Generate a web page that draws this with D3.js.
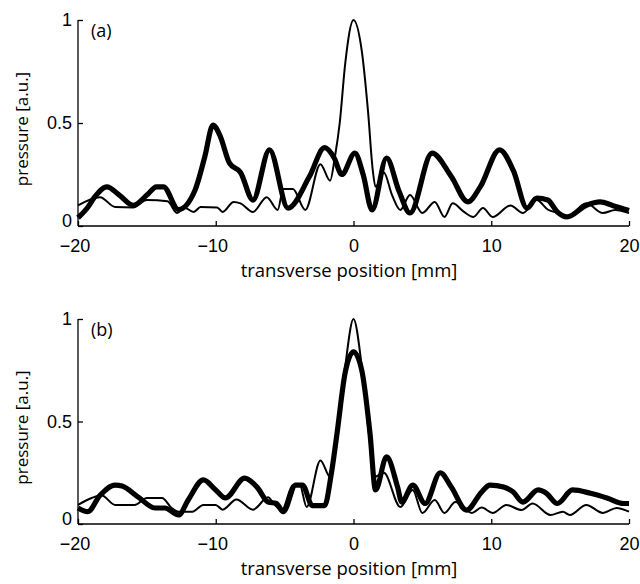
<!DOCTYPE html>
<meta charset="utf-8">
<style>
body { margin: 0; background: #fff; }
svg { font-family: "Open Sans", sans-serif; }
.axis path, .axis line { stroke: #000; stroke-width: 1.3; }
.axis text { font-size: 18px; fill: #000; }
.thin { fill: none; stroke: #000; stroke-width: 2; stroke-linejoin: round; }
.thick { fill: none; stroke: #000; stroke-width: 5.2; stroke-linejoin: round; }
.tag { font-size: 18px; fill: #000; }
.xtitle { font-size: 18.5px; fill: #000; }
.ytitle { font-size: 17px; fill: #000; }
</style>
<body>
<script src="https://cdn.jsdelivr.net/npm/d3@7"></script>
<script>

// ---------------------------- data -----------------------------
// panel (a)
var aThickX = [-20, -19.3, -18.8, -17.9, -17.0, -16.0, -15.0, -14.3, -13.8, -12.7, -11.5, -10.8, -10.2, -9.7, -9.0, -8.2, -7.3, -6.1, -4.75, -3.2, -2.1, -1.4, -0.85, 0.1, 0.7, 1.35, 2.4, 3.3, 4.1, 5.7, 7.1, 8.3, 9.2, 10.6, 11.6, 12.6, 13.3, 14.1, 14.8, 15.5, 16.9, 17.9, 18.8, 20];
var aThickY = [0.04, 0.09, 0.14, 0.19, 0.15, 0.10, 0.15, 0.19, 0.19, 0.08, 0.175, 0.335, 0.49, 0.44, 0.305, 0.26, 0.126, 0.37, 0.087, 0.24, 0.38, 0.33, 0.25, 0.354, 0.25, 0.078, 0.33, 0.17, 0.063, 0.354, 0.24, 0.117, 0.19, 0.37, 0.27, 0.087, 0.136, 0.126, 0.068, 0.044, 0.10, 0.117, 0.10, 0.075];

var aThinX = [-20, -18.4, -17.3, -16.0, -15.0, -13.5, -12.8, -12.3, -11.6, -11.1, -9.9, -9.5, -8.7, -8.2, -7.3, -6.3, -5.5, -5.1, -4.4, -3.5, -2.4, -1.7, -1.35, -1.0, -0.6, 0, 0.6, 1.05, 1.4, 1.6, 2.2, 2.8, 3.4, 4.1, 5.0, 5.9, 6.6, 7.2, 8.0, 8.7, 9.4, 10.1, 11.4, 12.3, 13.3, 14.1, 15.0, 15.5, 16.9, 18.1, 19.0, 20];
var aThinY = [0.10, 0.14, 0.092, 0.09, 0.126, 0.12, 0.063, 0.09, 0.068, 0.092, 0.09, 0.068, 0.117, 0.11, 0.068, 0.14, 0.078, 0.18, 0.18, 0.078, 0.30, 0.22, 0.335, 0.5, 0.79, 1.0, 0.85, 0.56, 0.27, 0.19, 0.26, 0.15, 0.078, 0.15, 0.063, 0.117, 0.044, 0.11, 0.07, 0.044, 0.087, 0.044, 0.10, 0.063, 0.126, 0.08, 0.06, 0.044, 0.11, 0.063, 0.078, 0.063];

// panel (b)
var bThickX = [-20, -19.3, -18.4, -17.3, -16.8, -15.6, -14.4, -13.7, -12.7, -12.0, -10.9, -10.0, -9.3, -7.9, -7.0, -6.2, -5.6, -5.1, -4.2, -3.7, -3.0, -2.1, -1.6, -1.2, -0.6, 0.0, 0.6, 1.2, 1.6, 2.4, 3.2, 3.5, 4.3, 5.2, 6.3, 7.1, 8.2, 9.3, 9.9, 10.9, 11.6, 12.3, 13.4, 14.0, 14.8, 15.9, 17.2, 18.4, 19.6, 20];
var bThickY = [0.078, 0.06, 0.14, 0.19, 0.185, 0.13, 0.078, 0.078, 0.044, 0.117, 0.215, 0.166, 0.127, 0.224, 0.18, 0.107, 0.10, 0.06, 0.19, 0.19, 0.09, 0.09, 0.25, 0.44, 0.74, 0.84, 0.75, 0.44, 0.166, 0.327, 0.18, 0.107, 0.19, 0.10, 0.25, 0.18, 0.068, 0.156, 0.19, 0.18, 0.156, 0.107, 0.166, 0.15, 0.10, 0.166, 0.15, 0.127, 0.10, 0.10];

var bThinX = [-20, -19.0, -18.3, -17.3, -15.9, -15.0, -13.9, -13.2, -12.7, -11.7, -10.9, -10.0, -9.5, -8.5, -7.3, -6.2, -5.8, -5.2, -4.4, -3.9, -3.4, -2.4, -1.7, -1.0, -0.6, 0, 0.6, 1.2, 1.5, 2.2, 3.4, 4.3, 5.0, 5.9, 6.6, 7.4, 8.6, 9.3, 10.1, 11.1, 12.2, 13.0, 14.3, 15.2, 15.7, 16.9, 18.1, 19.1, 20];
var bThinY = [0.093, 0.127, 0.14, 0.093, 0.093, 0.127, 0.127, 0.078, 0.06, 0.06, 0.093, 0.093, 0.07, 0.12, 0.07, 0.13, 0.10, 0.068, 0.19, 0.19, 0.083, 0.31, 0.23, 0.55, 0.77, 1.0, 0.77, 0.39, 0.23, 0.25, 0.083, 0.166, 0.054, 0.117, 0.054, 0.107, 0.054, 0.08, 0.054, 0.093, 0.068, 0.10, 0.044, 0.06, 0.044, 0.093, 0.054, 0.078, 0.06];

var xTicks = [-20, -10, 0, 10, 20];
var yTicks = [0, 0.5, 1];
var panelTags = ["(a)", "(b)"];
var xTitle = "transverse position [mm]";
var yTitle = "pressure [a.u.]";
// ----------------------------------------------------------------

var svg = d3.select("body").append("svg")
    .attr("width", 640)
    .attr("height", 584);

var x = d3.scaleLinear().domain([-20, 20]).range([78, 629]);

var panels = [
  {top: 20, bottom: 226, tag: panelTags[0], thin: [aThinX, aThinY], thick: [aThickX, aThickY]},
  {top: 319, bottom: 524, tag: panelTags[1], thin: [bThinX, bThinY], thick: [bThickX, bThickY]}
];

panels.forEach(function(p) {
  var y = d3.scaleLinear().domain([0, 1]).range([p.bottom, p.top]);
  var g = svg.append("g");

  var line = d3.line()
      .x(function(d) { return x(d[0]); })
      .y(function(d) { return y(d[1]); })
      .curve(d3.curveMonotoneX);

  g.append("path")
      .attr("class", "thin")
      .attr("d", line(d3.zip(p.thin[0], p.thin[1])));

  g.append("path")
      .attr("class", "thick")
      .attr("d", line(d3.zip(p.thick[0], p.thick[1])));

  var xa = g.append("g")
      .attr("class", "axis")
      .attr("transform", "translate(0," + p.bottom + ")")
      .call(d3.axisBottom(x).tickValues(xTicks).tickSize(-5).tickSizeOuter(0).tickPadding(13));
  xa.select(".domain").attr("d", "M" + x(-20) + ",0H" + x(20));
  // labels sit a little left of their ticks in the original
  xa.selectAll(".tick text").attr("dx", function(d) { return d < 0 ? "-0.2em" : null; });

  var ya = g.append("g")
      .attr("class", "axis")
      .attr("transform", "translate(" + x(-20) + ",0)")
      .call(d3.axisLeft(y).tickValues(yTicks).tickSize(-5).tickSizeOuter(0).tickPadding(6)
        .tickFormat(function(d) { return d === 0.5 ? "0.5" : d3.format("d")(d); }));
  ya.select(".domain").attr("d", "M0," + p.bottom + "V" + p.top);
  ya.selectAll(".tick text").attr("dy", function(d) { return d === 0 ? "0.05em" : "0.32em"; });

  g.append("text")
      .attr("class", "tag")
      .attr("x", 91)
      .attr("y", p.top + 17)
      .text(p.tag);

  g.append("text")
      .attr("class", "xtitle")
      .attr("text-anchor", "middle")
      .attr("x", 349)
      .attr("y", p.bottom + 51)
      .text(xTitle);

  g.append("text")
      .attr("class", "ytitle")
      .attr("text-anchor", "middle")
      .attr("transform", "translate(28," + ((p.top + p.bottom) / 2 + 6) + ") rotate(-90)")
      .text(yTitle);
});

</script>
</body>
